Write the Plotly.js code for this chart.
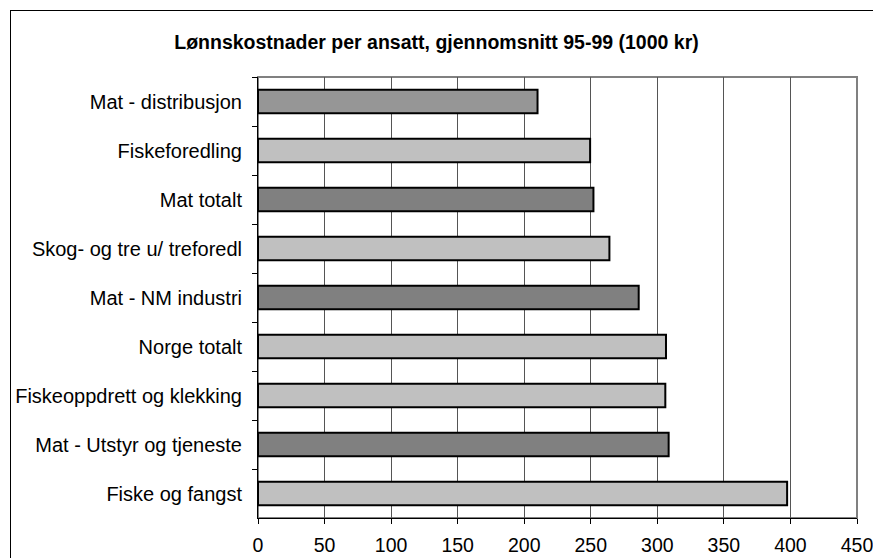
<!DOCTYPE html>
<html>
<head>
<meta charset="utf-8">
<script src="https://cdn.plot.ly/plotly-3.0.1.min.js"></script>
<style>
  html, body { margin: 0; padding: 0; background: #fff; }
  #wrap { position: relative; width: 873px; height: 558px; overflow: hidden; }
  #chart { position: absolute; left: 0; top: 0; width: 873px; height: 558px; }
  #frame { position: absolute; left: 10px; top: 10px; width: 900px; height: 600px;
           border-left: 1px solid #000; border-top: 1px solid #000; pointer-events: none; }
</style>
</head>
<body>
<div id="wrap">
  <div id="chart"></div>
  <div id="frame"></div>
</div>
<script>
const categories = [
  "Mat - distribusjon",
  "Fiskeforedling",
  "Mat totalt",
  "Skog- og tre u/ treforedl",
  "Mat - NM industri",
  "Norge totalt",
  "Fiskeoppdrett og klekking",
  "Mat - Utstyr og tjeneste",
  "Fiske og fangst"
];
const values = [210, 249.5, 252, 264, 286, 306.5, 306, 308.5, 397.5];
const barColors = ["#969696", "#c0c0c0", "#808080", "#c0c0c0", "#808080", "#c0c0c0", "#c0c0c0", "#808080", "#c0c0c0"];
const xTicks = [0, 50, 100, 150, 200, 250, 300, 350, 400, 450];
const chartTitle = "Lønnskostnader per ansatt, gjennomsnitt 95-99 (1000 kr)";

const font = "Liberation Sans, Arial, sans-serif";

const trace = {
  type: "bar",
  orientation: "h",
  x: values,
  y: categories,
  marker: { color: barColors, line: { color: "#000", width: 2 } },
  width: 0.48,
  hoverinfo: "x+y"
};

const layout = {
  width: 873, height: 558,
  margin: { l: 258, r: 16, t: 77, b: 40, pad: 0 },
  paper_bgcolor: "rgba(0,0,0,0)",
  plot_bgcolor: "#fff",
  showlegend: false,
  font: { family: font, size: 20, color: "#000" },
  title: {
    text: "<b>" + chartTitle + "</b>",
    font: { family: font, size: 19.5, color: "#000" },
    x: 0.5, xref: "container", xanchor: "center",
    y: 1 - 42 / 558, yref: "container", yanchor: "middle"
  },
  xaxis: {
    range: [0, 450],
    tickvals: xTicks,
    ticktext: xTicks.map(String),
    showgrid: true, gridcolor: "#555", gridwidth: 1,
    zeroline: false,
    showline: true, linecolor: "#000", linewidth: 1,
    ticks: "outside", ticklen: 5, tickcolor: "#000", tickwidth: 1,
    ticklabelstandoff: 5,
    ticklabeloverflow: "allow",
    tickfont: { family: font, size: 19.5, color: "#000" },
    fixedrange: true
  },
  yaxis: {
    type: "category",
    autorange: "reversed",
    showgrid: false,
    zeroline: false,
    showline: true, linecolor: "#000", linewidth: 1,
    ticks: "outside", tickson: "boundaries", ticklen: 5, tickcolor: "#000", tickwidth: 1,
    ticklabelstandoff: 11,
    tickfont: { family: font, size: 20, color: "#000" },
    fixedrange: true
  },
  shapes: [
    { type: "rect", xref: "paper", yref: "paper", x0: 0, x1: 1, y0: 0, y1: 1,
      line: { color: "#808080", width: 2 }, fillcolor: "rgba(0,0,0,0)", layer: "below" }
  ]
};

Plotly.newPlot("chart", [trace], layout, { displayModeBar: false, staticPlot: true });
</script>
</body>
</html>
